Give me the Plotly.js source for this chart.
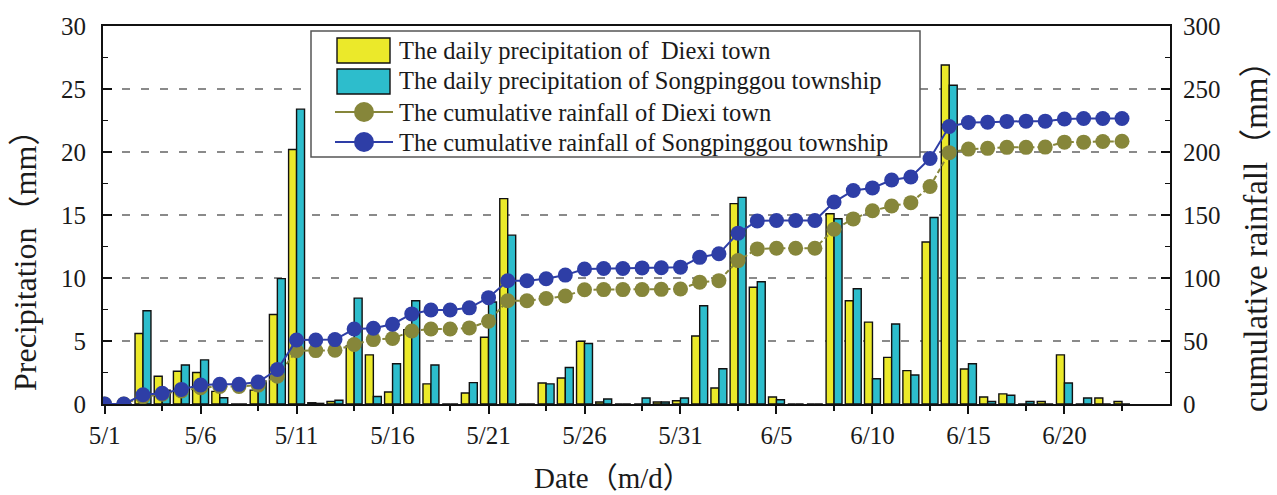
<!DOCTYPE html>
<html>
<head>
<meta charset="utf-8">
<script src="https://cdn.plot.ly/plotly-3.0.1.min.js"></script>
<style>
  html, body { margin: 0; padding: 0; background: #fff; }
  #chart { width: 1277px; height: 495px; }
</style>
</head>
<body>
<div id="chart"></div>
<script>
// Observation days, 1 May to 23 June
const dates = [
  '2017-05-01','2017-05-02','2017-05-03','2017-05-04','2017-05-05','2017-05-06','2017-05-07','2017-05-08','2017-05-09','2017-05-10',
  '2017-05-11','2017-05-12','2017-05-13','2017-05-14','2017-05-15','2017-05-16','2017-05-17','2017-05-18','2017-05-19','2017-05-20',
  '2017-05-21','2017-05-22','2017-05-23','2017-05-24','2017-05-25','2017-05-26','2017-05-27','2017-05-28','2017-05-29','2017-05-30',
  '2017-05-31','2017-06-01','2017-06-02','2017-06-03','2017-06-04','2017-06-05','2017-06-06','2017-06-07','2017-06-08','2017-06-09',
  '2017-06-10','2017-06-11','2017-06-12','2017-06-13','2017-06-14','2017-06-15','2017-06-16','2017-06-17','2017-06-18','2017-06-19',
  '2017-06-20','2017-06-21','2017-06-22','2017-06-23'
];

// Labelled date ticks
const tickDates = ['2017-05-01','2017-05-06','2017-05-11','2017-05-16','2017-05-21','2017-05-26',
                   '2017-05-31','2017-06-05','2017-06-10','2017-06-15','2017-06-20'];
const tickLabels = ['5/1','5/6','5/11','5/16','5/21','5/26','5/31','6/5','6/10','6/15','6/20'];

// Daily precipitation (mm)
const diexiDaily = [
  0, 0, 5.6, 2.2, 2.6, 2.5, 1.0, 0, 1.1, 7.1,
  20.2, 0.1, 0.2, 4.6, 3.9, 0.95, 5.9, 1.6, 0, 0.87,
  5.3, 16.3, 0, 1.67, 2.06, 4.97, 0.16, 0, 0, 0.16,
  0.26, 5.4, 1.27, 15.9, 9.26, 0.56, 0, 0, 15.1, 8.2,
  6.5, 3.7, 2.65, 12.86, 26.9, 2.78, 0.56, 0.8, 0, 0.2,
  3.9, 0, 0.48, 0.2
];
const songDaily = [
  0, 0, 7.4, 1.1, 3.1, 3.5, 0.5, 0, 1.8, 9.95,
  23.4, 0.05, 0.3, 8.4, 0.6, 3.2, 8.2, 3.1, 0, 1.7,
  8.1, 13.4, 0, 1.6, 2.9, 4.8, 0.4, 0, 0.48, 0.16,
  0.48, 7.8, 2.8, 16.4, 9.7, 0.34, 0, 0, 14.7, 9.15,
  2.0, 6.35, 2.3, 14.8, 25.3, 3.2, 0.2, 0.7, 0.2, 0,
  1.67, 0.48, 0, 0
];

// Cumulative rainfall (mm)
const diexiCum = [
  0, 0, 5.6, 7.8, 10.4, 12.9, 13.9, 13.9, 15.0, 22.1,
  42.3, 42.4, 42.6, 47.2, 51.1, 52.0, 57.9, 59.5, 59.5, 60.4,
  65.7, 82.0, 82.0, 83.7, 85.7, 90.7, 90.8, 90.8, 90.8, 91.0,
  91.3, 96.7, 97.9, 113.8, 123.1, 123.6, 123.6, 123.6, 138.7, 146.9,
  153.4, 157.1, 159.8, 172.6, 199.5, 202.3, 202.9, 203.7, 203.7, 203.9,
  207.8, 207.8, 208.3, 208.5
];
const songCum = [
  0, 0, 7.4, 8.5, 11.6, 15.1, 15.6, 15.6, 17.4, 27.4,
  50.8, 50.8, 51.1, 59.5, 60.1, 63.3, 71.5, 74.6, 74.6, 76.3,
  84.4, 97.8, 97.8, 99.4, 102.3, 107.1, 107.5, 107.5, 108.0, 108.1,
  108.6, 116.4, 119.2, 135.6, 145.3, 145.6, 145.6, 145.6, 160.3, 169.5,
  171.5, 177.8, 180.1, 194.9, 220.2, 223.4, 223.6, 224.3, 224.5, 224.5,
  226.2, 226.6, 226.6, 226.6
];

const seriesNames = [
  'The daily precipitation of  Diexi town',
  'The daily precipitation of Songpinggou township',
  'The cumulative rainfall of Diexi town',
  'The cumulative rainfall of Songpinggou township'
];
const seriesColors = ['#EBE92A', '#2DBDCC', '#86863A', '#2E3EA6'];

const serif = '"Liberation Serif", "Times New Roman", "Noto Sans CJK SC", serif';
const ink = '#1a1a1a';
const DAY = 86400000;

const traces = [
  {
    type: 'bar', x: dates, y: diexiDaily, name: seriesNames[0], yaxis: 'y',
    marker: { color: seriesColors[0], line: { color: '#111', width: 1.4 } }
  },
  {
    type: 'bar', x: dates, y: songDaily, name: seriesNames[1], yaxis: 'y',
    marker: { color: seriesColors[1], line: { color: '#111', width: 1.4 } }
  },
  {
    type: 'scatter', mode: 'lines+markers', x: dates, y: diexiCum, name: seriesNames[2], yaxis: 'y2',
    line: { color: seriesColors[2], width: 2, dash: '5px,3px' },
    marker: { color: seriesColors[2], size: 15 }
  },
  {
    type: 'scatter', mode: 'lines+markers', x: dates, y: songCum, name: seriesNames[3], yaxis: 'y2',
    line: { color: seriesColors[3], width: 2 },
    marker: { color: seriesColors[3], size: 15 }
  }
];

// Legend panel: framed box with swatches and labels, placed in paper space
const plotL = 103, plotW = 1067, plotT = 26, plotH = 378;
const px = v => (v - plotL) / plotW;
const py = v => (plotT + plotH - v) / plotH;

const legendRows = [50, 81, 112, 142];
const legendShapes = [
  { type: 'rect', xref: 'paper', yref: 'paper', x0: px(311), x1: px(920), y0: py(157), y1: py(31),
    fillcolor: '#fff', line: { color: '#555', width: 1.5 }, layer: 'above' },
  { type: 'rect', xref: 'paper', yref: 'paper', x0: px(337), x1: px(390), y0: py(63), y1: py(38),
    fillcolor: seriesColors[0], line: { color: '#111', width: 1.4 }, layer: 'above' },
  { type: 'rect', xref: 'paper', yref: 'paper', x0: px(337), x1: px(390), y0: py(94), y1: py(69),
    fillcolor: seriesColors[1], line: { color: '#111', width: 1.4 }, layer: 'above' }
];
[2, 3].forEach(function (k) {
  const row = legendRows[k];
  legendShapes.push({ type: 'line', xref: 'paper', yref: 'paper', x0: px(335), x1: px(393), y0: py(row), y1: py(row),
    line: { color: seriesColors[k], width: 2 }, layer: 'above' });
  legendShapes.push({ type: 'circle', xref: 'paper', yref: 'paper', xsizemode: 'pixel', ysizemode: 'pixel',
    xanchor: px(364), yanchor: py(row), x0: -10, x1: 10, y0: -10, y1: 10,
    fillcolor: seriesColors[k], line: { color: seriesColors[k], width: 0 }, layer: 'above' });
});
const legendText = seriesNames.map(function (name, k) {
  return { text: name, showarrow: false, xref: 'paper', yref: 'paper',
    x: px(397), y: py(legendRows[k]), xanchor: 'left', yanchor: 'middle',
    font: { family: serif, size: 24.5, color: ink } };
});

const layout = {
  width: 1277, height: 495,
  margin: { l: 103, r: 107, t: 26, b: 91, pad: 0 },
  paper_bgcolor: '#fff', plot_bgcolor: '#fff',
  font: { family: serif, color: ink, size: 25 },
  barmode: 'group', bargap: 0.17, bargroupgap: 0,
  showlegend: false,
  xaxis: {
    type: 'date',
    range: ['2017-04-30 22:00', '2017-06-25 12:00'],
    tickmode: 'array', tickvals: tickDates, ticktext: tickLabels,
    ticks: 'outside', ticklen: 8, tickwidth: 2, tickcolor: '#111',
    minor: { ticks: 'outside', ticklen: 5, tickwidth: 1.5, tickcolor: '#111', tick0: '2017-05-04', dtick: 5 * DAY },
    showline: true, linecolor: '#111', linewidth: 2, mirror: true,
    showgrid: false, zeroline: false,
    tickfont: { family: serif, size: 25, color: ink }
  },
  yaxis: {
    range: [0, 30], dtick: 5, tick0: 0,
    ticks: 'inside', ticklen: 9, tickwidth: 2, tickcolor: '#111',
    minor: { ticks: 'inside', ticklen: 5, tickwidth: 1.5, tickcolor: '#111', dtick: 2.5 },
    showline: true, linecolor: '#111', linewidth: 2,
    showgrid: true, gridcolor: '#8a8a8a', gridwidth: 2, griddash: '8px,11px',
    zeroline: false, ticklabelstandoff: 10,
    tickfont: { family: serif, size: 25, color: ink }
  },
  yaxis2: {
    overlaying: 'y', side: 'right', anchor: 'x',
    range: [0, 300], dtick: 50, tick0: 0,
    ticks: 'inside', ticklen: 9, tickwidth: 2, tickcolor: '#111',
    minor: { ticks: 'inside', ticklen: 5, tickwidth: 1.5, tickcolor: '#111', dtick: 25 },
    showline: true, linecolor: '#111', linewidth: 2,
    showgrid: false, zeroline: false, ticklabelstandoff: 6,
    tickfont: { family: serif, size: 25, color: ink }
  },
  shapes: legendShapes,
  annotations: legendText.concat([
    {
      text: 'Precipitation（mm）', textangle: -90, showarrow: false,
      xref: 'paper', yref: 'paper', x: px(25), y: py(253), xanchor: 'center', yanchor: 'middle',
      font: { family: serif, size: 32, color: ink }
    },
    {
      text: 'cumulative rainfall（mm）', textangle: -90, showarrow: false,
      xref: 'paper', yref: 'paper', x: px(1256), y: py(229), xanchor: 'center', yanchor: 'middle',
      font: { family: serif, size: 33, color: ink }
    },
    {
      text: 'Date（m/d）', showarrow: false,
      xref: 'paper', yref: 'paper', x: px(613), y: py(478), xanchor: 'center', yanchor: 'middle',
      font: { family: serif, size: 29, color: ink }
    }
  ])
};

Plotly.newPlot('chart', traces, layout, { displayModeBar: false, staticPlot: true });
</script>
</body>
</html>
